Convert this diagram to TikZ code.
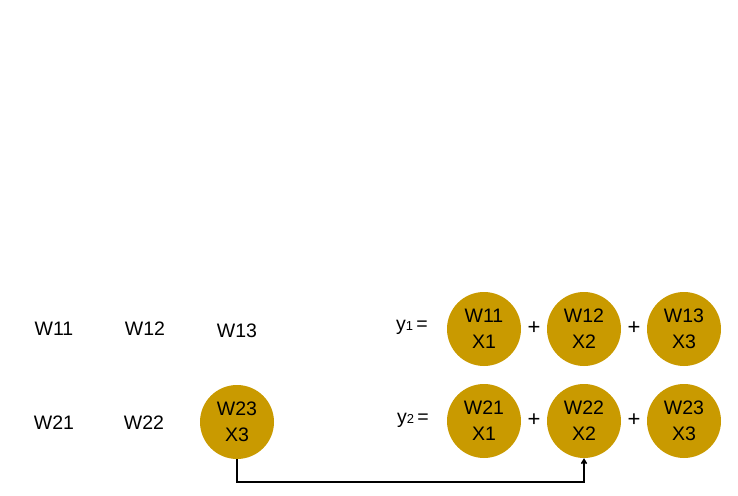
\documentclass[tikz,border=0pt]{standalone}
\usepackage{fontspec}
\setmainfont{Liberation Sans}
\usetikzlibrary{arrows.meta}
\definecolor{gold}{RGB}{201,154,0}
\tikzset{
  ball/.style={circle, fill=gold, minimum size=74pt, inner sep=0pt, align=center, font=\fontsize{19.5}{26}\selectfont},
  lbl/.style={font=\fontsize{19.5}{23}\selectfont, inner sep=0pt},
  plus/.style={font=\fontsize{22}{24}\selectfont, inner sep=0pt},
  link/.style={line width=1.6pt, -{Straight Barb[length=4pt,width=5pt]}}
}
\newcommand{\ysub}[1]{y{\fontsize{13}{13}\selectfont #1}\,=}
\begin{document}
\begin{tikzpicture}[x=1pt,y=-1pt]
\useasboundingbox (0,0) rectangle (738,495);
\node[lbl] (w11) at (54,329) {W11};
\node[lbl] (w12) at (145,329) {W12};
\node[lbl] (w13) at (237,331) {W13};
\node[lbl] (w21) at (54,423) {W21};
\node[lbl] (w22) at (144,423) {W22};
\node[ball] (w23) at (237,422) {W23\\X3};
\node[lbl] (y1) at (412,327) {\ysub{1}};
\node[lbl] (y2) at (413,420) {\ysub{2}};
\node[ball] (a11) at (484,329) {W11\\X1};
\node[ball] (a12) at (584,329) {W12\\X2};
\node[ball] (a13) at (684,329) {W13\\X3};
\node[ball] (a21) at (484,421) {W21\\X1};
\node[ball] (a22) at (584,421) {W22\\X2};
\node[ball] (a23) at (684,421) {W23\\X3};
\node[plus] (p11) at (534,328) {+};
\node[plus] (p12) at (634,328) {+};
\node[plus] (p21) at (534,420) {+};
\node[plus] (p22) at (634,420) {+};
\draw[link] (w23.south) -- (237,482) -| (a22.south);
\end{tikzpicture}
\end{document}
